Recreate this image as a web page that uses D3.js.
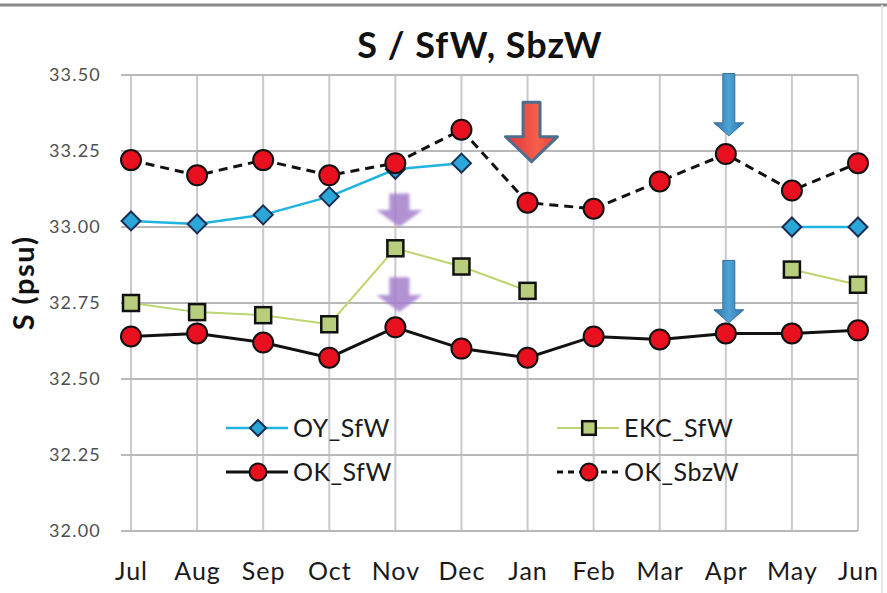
<!DOCTYPE html>
<html>
<head>
<meta charset="utf-8">
<script src="https://cdn.jsdelivr.net/npm/d3@7"></script>
<style>
  body { margin: 0; background: #fff; }
  svg { display: block; }
  text { font-family: Lato, "Open Sans", sans-serif; }
</style>
</head>
<body>
<svg id="chart" width="887" height="593"></svg>
<script>
const months = ["Jul", "Aug", "Sep", "Oct", "Nov", "Dec", "Jan", "Feb", "Mar", "Apr", "May", "Jun"];
const oySfW = [33.02, 33.01, 33.04, 33.10, 33.19, 33.21, null, null, null, null, 33.00, 33.00];
const ekcSfW = [32.75, 32.72, 32.71, 32.68, 32.93, 32.87, 32.79, null, null, null, 32.86, 32.81];
const okSfW = [32.64, 32.65, 32.62, 32.57, 32.67, 32.60, 32.57, 32.64, 32.63, 32.65, 32.65, 32.66];
const okSbzW = [33.22, 33.17, 33.22, 33.17, 33.21, 33.32, 33.08, 33.06, 33.15, 33.24, 33.12, 33.21];
const yTicks = [32.00, 32.25, 32.50, 32.75, 33.00, 33.25, 33.50];

// annotation arrows: [month, top value, tip value, kind]
const arrows = [
  ["Jan", 33.41, 33.215, "red"],
  ["Apr", 33.505, 33.30, "blue"],
  ["Apr", 32.89, 32.685, "blue"],
  ["Nov", 33.11, 33.00, "purple"],
  ["Nov", 32.835, 32.72, "purple"]
];

const svg = d3.select("#chart");

const x = d3.scalePoint().domain(months).range([131, 858]);
const y = d3.scaleLinear().domain([32, 33.5]).range([531, 75]);

// frame line at the top
svg.append("line")
  .attr("x1", 0).attr("x2", 887).attr("y1", 5).attr("y2", 5)
  .attr("stroke", "#8a8a8a").attr("stroke-width", 3);
svg.append("line")
  .attr("x1", 882).attr("x2", 882).attr("y1", 5).attr("y2", 593)
  .attr("stroke", "#e6e6e6").attr("stroke-width", 2);

// grid
svg.append("g").selectAll("line")
  .data(months)
  .enter().append("line")
  .attr("x1", d => x(d)).attr("x2", d => x(d))
  .attr("y1", y(33.5)).attr("y2", y(32))
  .attr("stroke", "#c9c9cf").attr("stroke-width", 2);

svg.append("g").selectAll("line")
  .data(yTicks)
  .enter().append("line")
  .attr("x1", 121).attr("x2", 858)
  .attr("y1", d => y(d)).attr("y2", d => y(d))
  .attr("stroke", "#b9b9b9").attr("stroke-width", 2);

// axes labels
const yAxis = svg.append("g")
  .attr("transform", "translate(101,0)")
  .call(d3.axisLeft(y).tickValues(yTicks).tickFormat(d3.format(".2f")).tickSize(0));
yAxis.select(".domain").remove();
yAxis.selectAll("text")
  .attr("x", 0)
  .style("font-family", "Lato, 'Open Sans', sans-serif")
  .style("font-size", "18px")
  .style("letter-spacing", "1.2px")
  .attr("fill", "#505050");

const xAxis = svg.append("g")
  .attr("transform", "translate(0,559)")
  .call(d3.axisBottom(x).tickSize(0));
xAxis.select(".domain").remove();
xAxis.selectAll("text")
  .attr("dy", "0.71em")
  .style("font-family", "Lato, 'Open Sans', sans-serif")
  .style("font-size", "25px")
  .style("letter-spacing", "1px")
  .attr("fill", "#1a1a1a");

svg.append("text")
  .attr("x", 480).attr("y", 58)
  .attr("text-anchor", "middle")
  .style("font-size", "36px").style("font-weight", "bold")
  .style("letter-spacing", "1px")
  .attr("fill", "#111")
  .text("S / SfW, SbzW");

svg.append("text")
  .attr("transform", "translate(34,283) rotate(-90)")
  .attr("text-anchor", "middle")
  .style("font-size", "29px").style("font-weight", "bold")
  .style("letter-spacing", "1.5px")
  .attr("fill", "#111")
  .text("S (psu)");

// series
const series = [
  { name: "OY_SfW", values: oySfW, color: "#1fb3e0", width: 2.5, dash: null, marker: "diamond", fill: "#2aa6d8", stroke: "#1b2d52" },
  { name: "EKC_SfW", values: ekcSfW, color: "#bcd56e", width: 2, dash: null, marker: "square", fill: "#b9ce7c", stroke: "#111" },
  { name: "OK_SfW", values: okSfW, color: "#111", width: 3, dash: null, marker: "circle", fill: "#e8101f", stroke: "#111" },
  { name: "OK_SbzW", values: okSbzW, color: "#111", width: 3, dash: "9,6", marker: "circle", fill: "#e8101f", stroke: "#111" }
];

const line = d3.line()
  .defined(d => d.v !== null)
  .x(d => x(d.m))
  .y(d => y(d.v));

function drawMarker(g, kind, fill, stroke, s) {
  if (kind === "circle") {
    g.append("circle").attr("r", 10 * s).attr("fill", fill).attr("stroke", stroke).attr("stroke-width", 2);
  } else if (kind === "square") {
    g.append("rect").attr("x", -8 * s).attr("y", -8 * s).attr("width", 16 * s).attr("height", 16 * s)
      .attr("fill", fill).attr("stroke", stroke).attr("stroke-width", 2.5);
  } else {
    g.append("path").attr("d", d3.symbol(d3.symbolDiamond2, 230 * s * s)())
      .attr("fill", fill).attr("stroke", stroke).attr("stroke-width", 2);
  }
}

series.forEach(s => {
  const pts = months.map((m, i) => ({ m: m, v: s.values[i] }));
  svg.append("path")
    .datum(pts)
    .attr("d", line)
    .attr("fill", "none")
    .attr("stroke", s.color)
    .attr("stroke-width", s.width)
    .attr("stroke-dasharray", s.dash);
  svg.append("g").selectAll("g")
    .data(pts.filter(d => d.v !== null))
    .enter().append("g")
    .attr("transform", d => `translate(${x(d.m)},${y(d.v)})`)
    .each(function() { drawMarker(d3.select(this), s.marker, s.fill, s.stroke, 1); });
});

// arrows
const defs = svg.append("defs");
const rg = defs.append("linearGradient").attr("id", "redGrad").attr("x1", 0).attr("x2", 1);
rg.append("stop").attr("offset", "0%").attr("stop-color", "#e8303c");
rg.append("stop").attr("offset", "60%").attr("stop-color", "#f4604a");
rg.append("stop").attr("offset", "100%").attr("stop-color", "#e84038");
const bg = defs.append("linearGradient").attr("id", "blueGrad").attr("x1", 0).attr("x2", 1);
bg.append("stop").attr("offset", "0%").attr("stop-color", "#2f6fa8");
bg.append("stop").attr("offset", "50%").attr("stop-color", "#4da3d4");
bg.append("stop").attr("offset", "100%").attr("stop-color", "#2f78b0");
defs.append("filter").attr("id", "soft").append("feGaussianBlur").attr("stdDeviation", 1.6);

const arrowStyle = {
  red: { bw: 17, hw: 52, hh: 25, fill: "url(#redGrad)", stroke: "#4d6e8c", sw: 3, dx: 4, filter: null },
  blue: { bw: 12, hw: 30, hh: 13, fill: "url(#blueGrad)", stroke: "#3a6f98", sw: 1, dx: 3, filter: null },
  purple: { bw: 20, hw: 46, hh: 17, fill: "#a47fcc", stroke: "none", sw: 0, dx: 4, filter: "url(#soft)" }
};

arrows.forEach(a => {
  const st = arrowStyle[a[3]];
  const cx = x(a[0]) + st.dx;
  const top = y(a[1]);
  const tip = y(a[2]);
  const hs = tip - st.hh;
  const p = d3.path();
  p.moveTo(cx - st.bw / 2, top);
  p.lineTo(cx + st.bw / 2, top);
  p.lineTo(cx + st.bw / 2, hs);
  p.lineTo(cx + st.hw / 2, hs);
  p.lineTo(cx, tip);
  p.lineTo(cx - st.hw / 2, hs);
  p.lineTo(cx - st.bw / 2, hs);
  p.closePath();
  svg.append("path")
    .attr("d", p.toString())
    .attr("fill", st.fill)
    .attr("stroke", st.stroke)
    .attr("stroke-width", st.sw)
    .attr("stroke-linejoin", "round")
    .attr("opacity", a[3] === "purple" ? 0.85 : 1)
    .attr("filter", st.filter);
});

// legend
const legendPos = [[226, 428], [557, 428], [226, 472], [557, 472]];
const legendOrder = ["OY_SfW", "EKC_SfW", "OK_SfW", "OK_SbzW"];
legendOrder.forEach((name, i) => {
  const s = series.find(d => d.name === name);
  const g = svg.append("g").attr("transform", `translate(${legendPos[i][0]},${legendPos[i][1]})`);
  g.append("line")
    .attr("x1", 0).attr("x2", 62).attr("y1", 0).attr("y2", 0)
    .attr("stroke", s.color).attr("stroke-width", s.width)
    .attr("stroke-dasharray", s.dash ? "6,5" : null);
  const mg = g.append("g").attr("transform", "translate(32,0)");
  drawMarker(mg, s.marker, s.fill, s.stroke, 0.85);
  g.append("text")
    .attr("x", 67).attr("y", 0).attr("dy", "0.36em")
    .style("font-size", "25px")
    .style("letter-spacing", "0.5px")
    .attr("fill", "#1a1a1a")
    .text(name);
});
</script>
</body>
</html>
